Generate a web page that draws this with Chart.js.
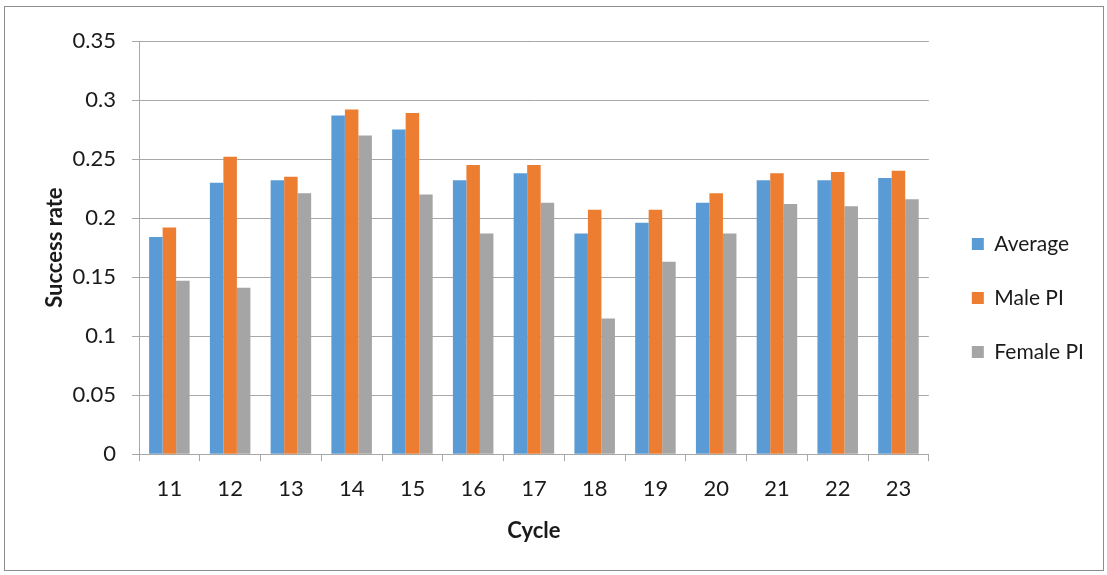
<!DOCTYPE html>
<html>
<head>
<meta charset="utf-8">
<script src="https://cdn.jsdelivr.net/npm/chart.js@4.4.0/dist/chart.umd.min.js"></script>
<style>
    html, body { margin: 0; padding: 0; background: #fff; }
    #wrap { position: relative; width: 1107px; height: 575px; }
    #marco { position: absolute; left: 4px; top: 6px; width: 1098px; height: 563px; border: 1px solid #8c8c8c; }
    #grafico { position: absolute; left: 0; top: 0; }
</style>
</head>
<body>
<div id="wrap">
    <div id="marco"></div>
    <canvas id="grafico" width="1107" height="575"></canvas>
</div>
<script>
const ciclos = ["11", "12", "13", "14", "15", "16", "17", "18", "19", "20", "21", "22", "23"];
const promedio = [0.184, 0.230, 0.232, 0.287, 0.275, 0.232, 0.238, 0.187, 0.196, 0.213, 0.232, 0.232, 0.234];
const piHombre = [0.192, 0.252, 0.235, 0.292, 0.289, 0.245, 0.245, 0.207, 0.207, 0.221, 0.238, 0.239, 0.240];
const piMujer = [0.147, 0.141, 0.221, 0.270, 0.220, 0.187, 0.213, 0.115, 0.163, 0.187, 0.212, 0.210, 0.216];

const fuente = "Lato";
const colorGrid = "#a8a8a8";

Chart.defaults.color = "#1a1a1a";
Chart.defaults.font.family = fuente;

// mueve la leyenda un poco a la derecha, como en el original
const correrLeyenda = {
    id: "correrLeyenda",
    afterLayout(chart) {
        chart.legend.left += 10;
        chart.legend.right += 10;
    }
};

const ctx = document.getElementById("grafico").getContext("2d");
const grafico = new Chart(ctx, {
    type: "bar",
    data: {
        labels: ciclos,
        datasets: [
            { label: "Average", data: promedio, backgroundColor: "#5b9bd5" },
            { label: "Male PI", data: piHombre, backgroundColor: "#ed7d31" },
            { label: "Female PI", data: piMujer, backgroundColor: "#a5a5a5" }
        ]
    },
    options: {
        responsive: false,
        animation: false,
        layout: { padding: { top: 41, bottom: 20, left: 42, right: 23 } },
        datasets: { bar: { barPercentage: 1, categoryPercentage: 0.667 } },
        plugins: {
            tooltip: { enabled: false },
            legend: {
                position: "right",
                labels: {
                    boxWidth: 12,
                    boxHeight: 12,
                    padding: 33,
                    font: { size: 21 }
                }
            }
        },
        scales: {
            x: {
                grid: { drawOnChartArea: false, tickLength: 7, color: colorGrid },
                border: { color: colorGrid },
                ticks: { padding: 15, font: { size: 22 } },
                title: { display: true, text: "Cycle", font: { size: 22, weight: "bold" }, padding: { top: 0, bottom: 11 } }
            },
            y: {
                min: 0,
                max: 0.35,
                afterFit: escala => { escala.width = 97; },
                grid: { tickLength: 7, color: colorGrid },
                border: { color: colorGrid },
                ticks: {
                    stepSize: 0.05,
                    padding: 16,
                    font: { size: 22 },
                    callback: v => String(Math.round(v * 100) / 100)
                },
                title: { display: true, text: "Success rate", font: { size: 22, weight: "bold" }, padding: { top: 0, bottom: 5 } }
            }
        }
    },
    plugins: [correrLeyenda]
});
</script>
</body>
</html>
